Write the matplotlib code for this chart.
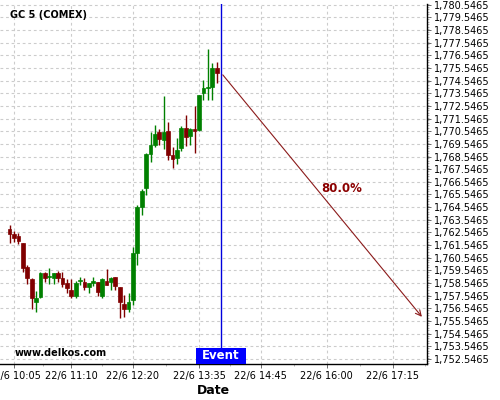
import numpy as np
import matplotlib
matplotlib.use("Agg")
from matplotlib import pyplot as plt
from matplotlib.patches import Rectangle
from matplotlib.ticker import FixedLocator, MultipleLocator, FuncFormatter
import matplotlib.transforms as mtransforms

# 5 minute candles, 22/6 from 10:00 to 13:55 (minutes since midnight)
times = 600 + 5*np.arange(48)
opens = [1762.80, 1762.43, 1762.25, 1761.70, 1759.81, 1758.86, 1757.07, 1757.47,
         1759.33, 1759.00, 1758.97, 1759.33, 1758.97, 1758.52, 1757.99, 1757.55,
         1758.70, 1758.60, 1758.26, 1758.52, 1758.65, 1757.55, 1758.70, 1758.63,
         1759.00, 1758.26, 1756.87, 1756.50, 1757.17, 1760.89, 1764.56, 1766.02,
         1768.78, 1769.46, 1770.48, 1769.86, 1770.55, 1768.69, 1768.46, 1769.24,
         1770.83, 1770.14, 1770.70, 1770.61, 1773.60, 1774.00, 1774.07, 1775.57]
highs = [1763.17, 1762.65, 1762.47, 1761.75, 1759.97, 1758.97, 1757.94, 1759.40,
         1759.40, 1759.70, 1759.33, 1759.50, 1759.44, 1758.90, 1758.90, 1758.70,
         1759.00, 1758.95, 1758.52, 1759.00, 1758.65, 1758.97, 1759.65, 1759.05,
         1759.00, 1758.26, 1757.60, 1757.74, 1761.41, 1764.70, 1766.00, 1768.83,
         1770.49, 1771.05, 1770.75, 1773.35, 1771.30, 1769.30, 1770.03, 1770.95,
         1771.79, 1770.83, 1772.50, 1773.37, 1774.63, 1777.05, 1775.90, 1776.00]
lows = [1761.70, 1761.80, 1761.60, 1759.44, 1758.49, 1756.47, 1756.23, 1757.40,
        1758.65, 1758.50, 1758.50, 1758.60, 1758.25, 1757.80, 1757.39, 1757.40,
        1758.40, 1758.00, 1757.80, 1758.30, 1757.55, 1757.34, 1758.40, 1758.00,
        1758.00, 1755.76, 1755.90, 1756.28, 1756.81, 1759.97, 1763.90, 1765.50,
        1768.12, 1769.30, 1769.46, 1769.15, 1768.30, 1767.60, 1767.98, 1768.98,
        1769.34, 1769.43, 1768.80, 1770.60, 1773.00, 1773.00, 1773.00, 1774.34]
closes = [1762.43, 1762.12, 1761.86, 1759.75, 1758.97, 1757.34, 1757.34, 1759.33,
          1758.97, 1759.10, 1759.33, 1758.97, 1758.45, 1758.13, 1757.55, 1758.52,
          1758.75, 1758.26, 1758.52, 1758.70, 1757.82, 1758.86, 1758.40, 1758.97,
          1758.33, 1757.07, 1756.50, 1757.07, 1760.89, 1764.56, 1765.80, 1768.78,
          1769.44, 1770.34, 1769.96, 1770.49, 1768.63, 1768.32, 1769.10, 1770.82,
          1770.09, 1770.75, 1770.60, 1773.37, 1773.97, 1774.08, 1775.57, 1775.17]

event_time = 840          # 14:00
target_time = 1070        # 17:50
target_price = 1755.71
prob_label = "80.0%"

xtick_times = [605, 670, 740, 815, 885, 960, 1035]
xtick_labels = ["22/6 10:05", "22/6 11:10", "22/6 12:20", "22/6 13:35",
                "22/6 14:45", "22/6 16:00", "22/6 17:15"]
yticks = 1752.5465 + np.arange(29)

green = '#008000'
red = '#800000'

fig = plt.figure(figsize=(5, 4), dpi=100)
ax = fig.add_axes([0.0, 0.09, 0.854, 0.90])

o = np.array(opens); c = np.array(closes)
cols = [green if cc >= oo else red for oo, cc in zip(o, c)]
ax.vlines(times, lows, highs, colors=cols, lw=1, zorder=3)
body_bottom = np.minimum(o, c)
body_h = np.maximum(np.abs(c - o), 0.08)
ax.bar(times, body_h, bottom=body_bottom, width=4.3, color=cols,
       edgecolor=cols, lw=0.5, zorder=4)

ax.set_xlim(589.1, 1073.8)
ax.set_ylim(1752.15, 1780.6)

ax.xaxis.set_major_locator(FixedLocator(xtick_times))
ax.set_xticklabels(xtick_labels)
mids = [(a + b)/2 for a, b in zip(xtick_times[:-1], xtick_times[1:])] + [1072]
ax.xaxis.set_minor_locator(FixedLocator(mids))
ax.yaxis.tick_right()
ax.set_yticks(yticks)
ax.yaxis.set_major_formatter(FuncFormatter(lambda v, p: '{:,.4f}'.format(v)))
ax.yaxis.set_minor_locator(MultipleLocator(0.2))
ax.tick_params(axis='both', labelsize=7, length=3, width=0.6, color='#555555', pad=2)
ax.tick_params(axis='both', which='minor', length=1.5, width=0.5, color='#999999')

ax.grid(True, which='major', ls=(0, (2.5, 2.5)), color='#cccccc', lw=0.8)
for s in ['left', 'top']:
    ax.spines[s].set_visible(False)
ax.spines['right'].set_linewidth(1)
ax.spines['bottom'].set_linewidth(1)

ax.set_xlabel('Date', fontsize=9, fontweight='bold', labelpad=2)

ax.axvline(event_time, color='#0000dd', lw=1, zorder=5)
ax.annotate('', xy=(target_time, target_price), xytext=(event_time, closes[-1]),
            arrowprops=dict(arrowstyle='->', color='#8b1a1a', lw=0.8, mutation_scale=10),
            zorder=6)
ax.text(977, 1766.04, prob_label, color='#8b0000', fontsize=8.5, fontweight='bold',
        ha='center', va='center')

trans = mtransforms.blended_transform_factory(ax.transData, ax.transAxes)
ax.add_patch(Rectangle((event_time - 28.4, 0), 56.8, 0.045, transform=trans,
                       facecolor='#0000ff', edgecolor='none', zorder=7, clip_on=False))
ax.text(event_time, 0.0225, 'Event', transform=trans, color='white', fontsize=8.5,
        fontweight='bold', ha='center', va='center', zorder=8)

ax.text(0.023, 0.969, 'GC 5 (COMEX)', transform=ax.transAxes, fontsize=7,
        fontweight='bold', ha='left', va='center')
ax.text(0.035, 0.031, 'www.delkos.com', transform=ax.transAxes, fontsize=7,
        fontweight='bold', ha='left', va='center')

fig.savefig('out.png', dpi=100)
